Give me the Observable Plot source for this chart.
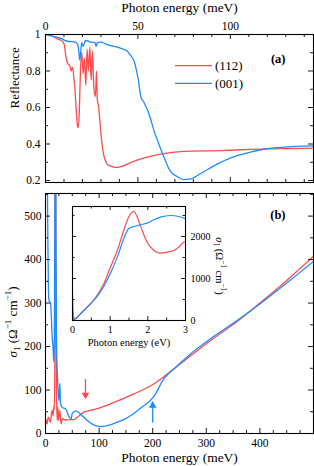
<!DOCTYPE html>
<html><head><meta charset="utf-8">
<script src="https://cdn.jsdelivr.net/npm/d3@7"></script>
<script src="https://cdn.jsdelivr.net/npm/@observablehq/plot@0.6"></script>
<style>
body{margin:0;background:#fff;}
#chart{position:relative;width:314px;height:466px;overflow:hidden;}
#chart svg{position:absolute;overflow:visible;max-width:none;}
</style></head><body><div id="chart"></div>
<script>
// ---------- Panel (a): reflectance vs photon energy (meV) ----------
const reflE112 = [0,3,6.3,8.1,10.0,11.2,12.1,13.1,13.9,14.6,15.3,16.0,16.8,17.3,17.8,18.3,18.9,19.6,20.4,21.1,21.8,22.5,23.2,24.0,24.7,25.4,26.1,27.0,27.6,28.0,28.8,29.7,30.6,31.5,32.4,33.3,35.1,37.8,40.5,47.7,55.0,62.2,74.8,94.6,110.8,145];
const refl112  = [1.0,0.995,0.976,0.97,0.95,0.87,0.84,0.83,0.80,0.82,0.77,0.69,0.56,0.50,0.49,0.58,0.80,0.90,0.785,0.87,0.72,0.92,0.80,0.93,0.75,0.91,0.72,0.66,0.80,0.65,0.60,0.49,0.40,0.34,0.31,0.29,0.28,0.272,0.275,0.305,0.328,0.345,0.36,0.364,0.37,0.377];
const reflE001 = [0,4,8.1,11.7,16.2,17.4,18.0,18.5,19.0,19.6,20.4,21.6,24.0,26.8,27.4,28.0,29.7,33.3,40.5,44.2,46.0,47.7,48.6,49.5,50.4,51.2,51.7,53.2,56.8,58.5,61.3,64.0,67.6,71.2,74.8,78.0,83.8,92.8,101.8,110.8,119.8,128.8,145];
const refl001  = [1.0,0.99,0.98,0.963,0.958,0.945,0.91,0.86,0.90,0.955,0.935,0.967,0.96,0.955,0.935,0.955,0.958,0.945,0.925,0.91,0.885,0.86,0.83,0.79,0.74,0.68,0.656,0.63,0.54,0.48,0.40,0.33,0.25,0.222,0.205,0.207,0.237,0.29,0.33,0.355,0.374,0.383,0.39];

// ---------- Panel (b): sigma1 vs photon energy (meV) ----------
const sigE112 = [0,1.5,3,4.5,6.2,8,9.3,11,12.5,14,15.5,16.5,17.4,18.0,18.7,19.4,20.5,21.8,23,24.8,26.7,29.3,31.2,37.3,45,52.8,60,71.5,84,96.5,121,165,202,242,308,360,400,450,500];
const sig112  = [20,30,22,35,37,28,26,45,53,40,64,55,161,500,800,400,92,30,60,30,53,22,34,31,32,32,38,49,53,57,68,91,114,151,214,260,300,352,408];
const sigE001 = [0,1.5,3,4.5,5.5,6.5,8,9.5,11,12.5,14,15.5,16.5,17.3,18.0,18.7,19.5,20.3,21.2,22,23,24.8,25.8,26.7,28,31.2,37.3,43.5,48,49.8,53,56,60.3,65,77.8,90,102.6,121,133.7,146,160,177,202,221,242.5,270.5,308,360,400,450,500];
const sig001  = [1200,900,650,430,330,306,303,300,265,220,200,165,220,450,800,800,450,250,170,140,110,76,95,115,69,60,57,40,34,46,50,52,50,45,30,20,16,20,26,32,42,58,85,126,152,183,218,262,298,346,396];

// arrows marking features (meV, from sigma, to sigma)
const arrowE    = [74.6, 200];
const arrowFrom = [124, 24];
const arrowTo   = [84, 70];
const arrowSeries = ["(112)", "(001)"];

// ---------- Inset: sigma1 vs photon energy (eV) ----------
const insetE112 = [0,0.01,0.03,0.08,0.17,0.30,0.48,0.65,0.83,1.0,1.19,1.36,1.49,1.58,1.63,1.72,1.85,1.98,2.16,2.33,2.51,2.69,2.82,2.95,3.0];
const inset112  = [674,300,79,40,119,238,397,595,873,1254,1667,2143,2460,2580,2595,2460,2143,1865,1667,1603,1627,1667,1746,1865,1880];
const insetE001 = [0,0.01,0.04,0.12,0.30,0.48,0.65,0.83,1.0,1.19,1.36,1.49,1.63,1.80,1.98,2.16,2.33,2.6,2.82,3.0];
const inset001  = [317,100,16,79,238,400,570,810,1111,1508,1944,2183,2238,2278,2317,2397,2460,2500,2476,2421];

// ---------- tick values ----------
const aTickLabelsX = [0, 50, 100];
const aMinorX = [10,20,30,40,60,70,80,90,110,120,130,140];
const aTickLabelsY = [0.2, 0.4, 0.6, 0.8, 1];
const aMinorY = [0.3, 0.5, 0.7, 0.9];
const bTickLabelsX = [0, 100, 200, 300, 400];
const bMajorX = [0,100,200,300,400,500];
const bMinorX = [25,50,75,125,150,175,225,250,275,325,350,375,425,450,475];
const bTickLabelsY = [0, 100, 200, 300, 400, 500];
const bMinorY = [50,150,250,350,450,550];
const iTickLabelsX = [0, 1, 2, 3];
const iMinorX = [0.5, 1.5, 2.5];
const iTickLabelsY = [0, 1000, 2000];
const iMinorY = [500, 1500, 2500];

const series = ["(112)", "(001)"];
const colors = ["#ff4b4b", "#1e8cff"];
const FONT = "'Liberation Serif', 'DejaVu Serif', serif";

function tickMarks(xMaj, xMin, yMaj, yMin, W, H, maj = 5, min = 3) {
  const m = [];
  const o = {stroke: "black", strokeWidth: 0.9};
  for (const [arr, len] of [[xMaj, maj], [xMin, min]]) {
    m.push(Plot.tickX(arr, {x: d => d, insetTop: H - len, ...o}));
    m.push(Plot.tickX(arr, {x: d => d, insetBottom: H - len, ...o}));
  }
  for (const [arr, len] of [[yMaj, maj], [yMin, min]]) {
    m.push(Plot.tickY(arr, {y: d => d, insetRight: W - len, ...o}));
    m.push(Plot.tickY(arr, {y: d => d, insetLeft: W - len, ...o}));
  }
  return m;
}
function lineMark(xs, ys, color, w = 1.3) {
  return Plot.line(xs, {x: xs, y: ys, stroke: color, strokeWidth: w, curve: "monotone-x", clip: true});
}
function place(svg, left, top) {
  svg.style.left = left + "px";
  svg.style.top = top + "px";
  svg.style.position = "absolute";
  svg.style.overflow = "visible";
  svg.style.maxWidth = "none";
  return svg;
}
function sigmaLabel(svg, x, y, rot, size) {
  const t = d3.select(svg).append("text")
    .attr("transform", `translate(${x},${y}) rotate(${rot})`)
    .attr("text-anchor", "middle").attr("dy", "0.35em")
    .attr("font-family", FONT).attr("font-size", size).attr("fill", "black");
  t.append("tspan").attr("font-style", "italic").text("σ");
  t.append("tspan").attr("font-size", size * 0.7).attr("dy", size * 0.25).text("1");
  t.append("tspan").attr("dy", -size * 0.25).text(" (Ω");
  t.append("tspan").attr("font-size", size * 0.7).attr("dy", -size * 0.42).text("−1");
  t.append("tspan").attr("dy", size * 0.42).text(" cm");
  t.append("tspan").attr("font-size", size * 0.7).attr("dy", -size * 0.42).text("−1");
  t.append("tspan").attr("dy", size * 0.42).text(")");
}

const chart = document.getElementById("chart");
const baseStyle = {fontFamily: FONT, fontSize: "11.5px", color: "black", background: "transparent", overflow: "visible"};

// ---------- Panel (a) ----------
{
  const W = 268, H = 148;
  const svg = Plot.plot({
    width: 314, height: 190, marginTop: 34, marginRight: 1, marginBottom: 8, marginLeft: 45,
    style: baseStyle,
    x: {domain: [0, 145]},
    y: {domain: [0.189, 1]},
    marks: [
      lineMark(reflE112, refl112, colors[0]),
      lineMark(reflE001, refl001, colors[1]),
      ...tickMarks(aTickLabelsX, aMinorX, aTickLabelsY, aMinorY, W, H),
      Plot.frame({stroke: "black", strokeWidth: 1.1}),
      Plot.axisX(aTickLabelsX, {anchor: "top", tickSize: 0, tickPadding: 5, label: null, fontSize: 11.5}),
      Plot.axisY(aTickLabelsY, {anchor: "left", tickSize: 0, tickPadding: 5, label: null, fontSize: 11.5,
        tickFormat: d => d === 1 ? "1" : d3.format(".1f")(d)}),
      Plot.text(["Photon energy (meV)"], {frameAnchor: "top", dy: -27, lineAnchor: "middle", fontSize: 13.5}),
      Plot.text(["Reflectance"], {frameAnchor: "left", dx: -31, rotate: -90, lineAnchor: "middle", fontSize: 13}),
      Plot.text(["(a)"], {frameAnchor: "top-right", dx: -28, dy: 24, lineAnchor: "middle", fontSize: 12.5, fontWeight: "bold"})
    ]
  });
  place(svg, 0, 0);
  // legend
  const g = d3.select(svg).append("g").attr("font-family", FONT).attr("font-size", 13).attr("text-anchor", "start");
  [[65.7, 0], [83.3, 1]].forEach(([y, i]) => {
    g.append("line").attr("x1", 175).attr("x2", 212).attr("y1", y).attr("y2", y)
      .attr("stroke", colors[i]).attr("stroke-width", 1.3);
    g.append("text").attr("x", 215).attr("y", y).attr("dy", "0.35em").attr("text-anchor", "start").text(series[i]);
  });
  chart.appendChild(svg);
}

// ---------- Panel (b) ----------
{
  const W = 268, H = 240;
  const svg = Plot.plot({
    width: 314, height: 280, marginTop: 7, marginRight: 1, marginBottom: 33, marginLeft: 45,
    style: baseStyle,
    x: {domain: [0, 500]},
    y: {domain: [0, 552]},
    marks: [
      lineMark(sigE112, sig112, colors[0]),
      lineMark(sigE001, sig001, colors[1]),
      Plot.ruleX(arrowE, {x: arrowE, y1: arrowFrom, y2: (d, i) => (arrowFrom[i] + arrowTo[i]) / 2 + (arrowTo[i] - arrowFrom[i]) * 0.3,
        stroke: (d, i) => colors[series.indexOf(arrowSeries[i])], strokeWidth: 1.3}),
      Plot.dot(arrowE, {x: arrowE, y: (d, i) => arrowTo[i] - (arrowTo[i] - arrowFrom[i]) * 0.12, symbol: "triangle2", r: 3.6,
        rotate: (d, i) => arrowTo[i] < arrowFrom[i] ? 180 : 0,
        fill: (d, i) => colors[series.indexOf(arrowSeries[i])], stroke: "none"}),
      ...tickMarks(bMajorX, bMinorX, bTickLabelsY, bMinorY, W, H),
      Plot.frame({stroke: "black", strokeWidth: 1.1}),
      Plot.axisX(bTickLabelsX, {anchor: "bottom", tickSize: 0, tickPadding: 5, label: null, fontSize: 11.5}),
      Plot.axisY(bTickLabelsY, {anchor: "left", tickSize: 0, tickPadding: 4, label: null, fontSize: 11.5, tickFormat: d => String(d)}),
      Plot.text(["Photon energy (meV)"], {frameAnchor: "bottom", dy: 24, lineAnchor: "middle", fontSize: 13.5}),
      Plot.text(["(b)"], {frameAnchor: "top-right", dx: -28, dy: 21, lineAnchor: "middle", fontSize: 12.5, fontWeight: "bold"})
    ]
  });
  place(svg, 0, 186);
  sigmaLabel(svg, 12, 136, -90, 13);
  chart.appendChild(svg);
}

// ---------- Inset ----------
{
  const W = 113, H = 114;
  const svg = Plot.plot({
    width: 180, height: 160, marginTop: 10, marginRight: 57, marginBottom: 36, marginLeft: 10,
    style: {...baseStyle, fontSize: "10px"},
    x: {domain: [0, 3]},
    y: {domain: [0, 2714]},
    marks: [
      lineMark(insetE112, inset112, colors[0], 1.2),
      lineMark(insetE001, inset001, colors[1], 1.2),
      ...tickMarks(iTickLabelsX, iMinorX, iTickLabelsY, iMinorY, W, H, 4, 2.5),
      Plot.frame({stroke: "black", strokeWidth: 1.1}),
      Plot.axisX(iTickLabelsX, {anchor: "bottom", tickSize: 0, tickPadding: 5, label: null, fontSize: 10}),
      Plot.axisY(iTickLabelsY, {anchor: "right", tickSize: 0, tickPadding: 5, label: null, fontSize: 10, tickFormat: d => String(d)}),
      Plot.text(["Photon energy (eV)"], {frameAnchor: "bottom", dy: 22, lineAnchor: "middle", fontSize: 10.5})
    ]
  });
  place(svg, 62, 196);
  sigmaLabel(svg, 158, 70, 90, 10.5);
  chart.appendChild(svg);
}
</script></body></html>
